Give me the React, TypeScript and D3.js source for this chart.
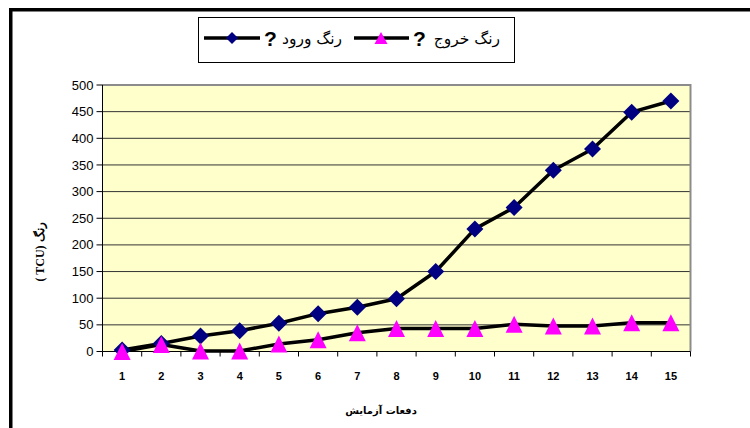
import React from "react";
import * as d3 from "d3";

const categories = ["1","2","3","4","5","6","7","8","9","10","11","12","13","14","15"];
const inputValues = [3, 15, 29, 39, 53, 71, 83, 99, 150, 230, 270, 340, 380, 449, 470];
const outputValues = [0, 13, 1, 1, 14, 22, 35, 43, 43, 43, 51, 48, 48, 54, 54];
const yTicks = [0, 50, 100, 150, 200, 250, 300, 350, 400, 450, 500];
const seriesNames = ["رنگ ورود", "رنگ خروج"];
const yTitle = "( TCU) رنگ";
const xTitle = "دفعات آزمایش";

const W = 750, H = 428;
const plot = { left: 102.5, right: 690.5, top: 85, bottom: 351.5 };

export default function App() {
  const x = d3.scalePoint<string>().domain(categories).range([plot.left, plot.right]).padding(0.5);
  const y = d3.scaleLinear().domain([0, 500]).range([plot.bottom, plot.top]);
  const step = x.step();
  const line = d3.line<number>().x((_, i) => x(categories[i])!).y((d) => y(d));

  const diamond = (cx: number, cy: number, r = 8.5) =>
    `M${cx},${cy - r}L${cx + r},${cy}L${cx},${cy + r}L${cx - r},${cy}Z`;
  const tri = (cx: number, cy: number, w = 17, h = 17) =>
    `M${cx},${cy - h / 2}L${cx + w / 2},${cy + h / 2}L${cx - w / 2},${cy + h / 2}Z`;

  const boundaries = d3.range(categories.length + 1).map((i) => plot.left + i * step);

  return (
    <svg width={W} height={H} style={{ position: "fixed", left: 0, top: 0, background: "#fff" }}>
      <rect x={10.75} y={9.75} width={W + 20} height={H + 20} fill="none" stroke="#000" strokeWidth={3.5} />
      <rect x={plot.left} y={plot.top} width={plot.right - plot.left} height={plot.bottom - plot.top} fill="#FFFFCC" />
      {yTicks.filter((t) => t > 0).map((t) => (
        <line key={t} x1={plot.left} x2={plot.right} y1={y(t)} y2={y(t)} stroke="#333" strokeWidth={1} />
      ))}
      <path d={`M${plot.left},${plot.top}H${plot.right}V${plot.bottom}`} fill="none" stroke="#8c8c8c" strokeWidth={2} />
      <line x1={plot.left} x2={plot.left} y1={plot.top} y2={plot.bottom} stroke="#000" strokeWidth={1} />
      <line x1={plot.left} x2={plot.right} y1={plot.bottom} y2={plot.bottom} stroke="#000" strokeWidth={1} />
      {yTicks.map((t) => (
        <g key={t}>
          <line x1={plot.left - 6} x2={plot.left} y1={y(t)} y2={y(t)} stroke="#000" />
          <text x={plot.left - 9} y={y(t)} dy="0.35em" textAnchor="end" fontFamily="Liberation Sans, Arial" fontSize={13} fill="#000">{t}</text>
        </g>
      ))}
      {boundaries.map((b, i) => (
        <line key={i} x1={b} x2={b} y1={plot.bottom} y2={plot.bottom + 5} stroke="#000" />
      ))}
      {categories.map((c) => (
        <text key={c} x={x(c)!} y={380} textAnchor="middle" fontFamily="Liberation Sans, Arial" fontWeight="bold" fontSize={11} fill="#000">{c}</text>
      ))}
      <path d={line(outputValues)!} fill="none" stroke="#000" strokeWidth={3.5} strokeLinejoin="round" />
      <path d={line(inputValues)!} fill="none" stroke="#000" strokeWidth={3.5} strokeLinejoin="round" />
      {inputValues.map((v, i) => (
        <path key={"d" + i} d={diamond(x(categories[i])!, y(v))} fill="#000080" />
      ))}
      {outputValues.map((v, i) => (
        <path key={"t" + i} d={tri(x(categories[i])!, y(v))} fill="#FF00FF" />
      ))}
      <text transform={`translate(44,252) rotate(-90)`} textAnchor="middle" fontFamily="Liberation Serif, Times New Roman" fontWeight="bold" fontSize={12} fill="#000">{yTitle}</text>
      <text x={381} y={414} textAnchor="middle" fontFamily="DejaVu Sans, Arial" fontWeight="bold" fontSize={10} fill="#000">{xTitle}</text>
      <rect x={198.5} y={17.5} width={316} height={45} fill="#fff" stroke="#000" strokeWidth={1} />
      <line x1={204} x2={260} y1={38} y2={38} stroke="#000" strokeWidth={3.5} />
      <path d={diamond(232, 38, 6)} fill="#000080" />
      <text x={264} y={46} fontFamily="Liberation Sans, Arial" fontWeight="bold" fontSize={21} fill="#000">?</text>
      <text x={342} y={44} textAnchor="end" fontFamily="DejaVu Sans" fontSize={15.5} fill="#000">{seriesNames[0]}</text>
      <line x1={354} x2={409} y1={38} y2={38} stroke="#000" strokeWidth={3.5} />
      <path d={tri(381, 38, 13, 12)} fill="#FF00FF" />
      <text x={413} y={46} fontFamily="Liberation Sans, Arial" fontWeight="bold" fontSize={21} fill="#000">?</text>
      <text x={500} y={44} textAnchor="end" fontFamily="DejaVu Sans" fontSize={15.5} fill="#000">{seriesNames[1]}</text>
    </svg>
  );
}
